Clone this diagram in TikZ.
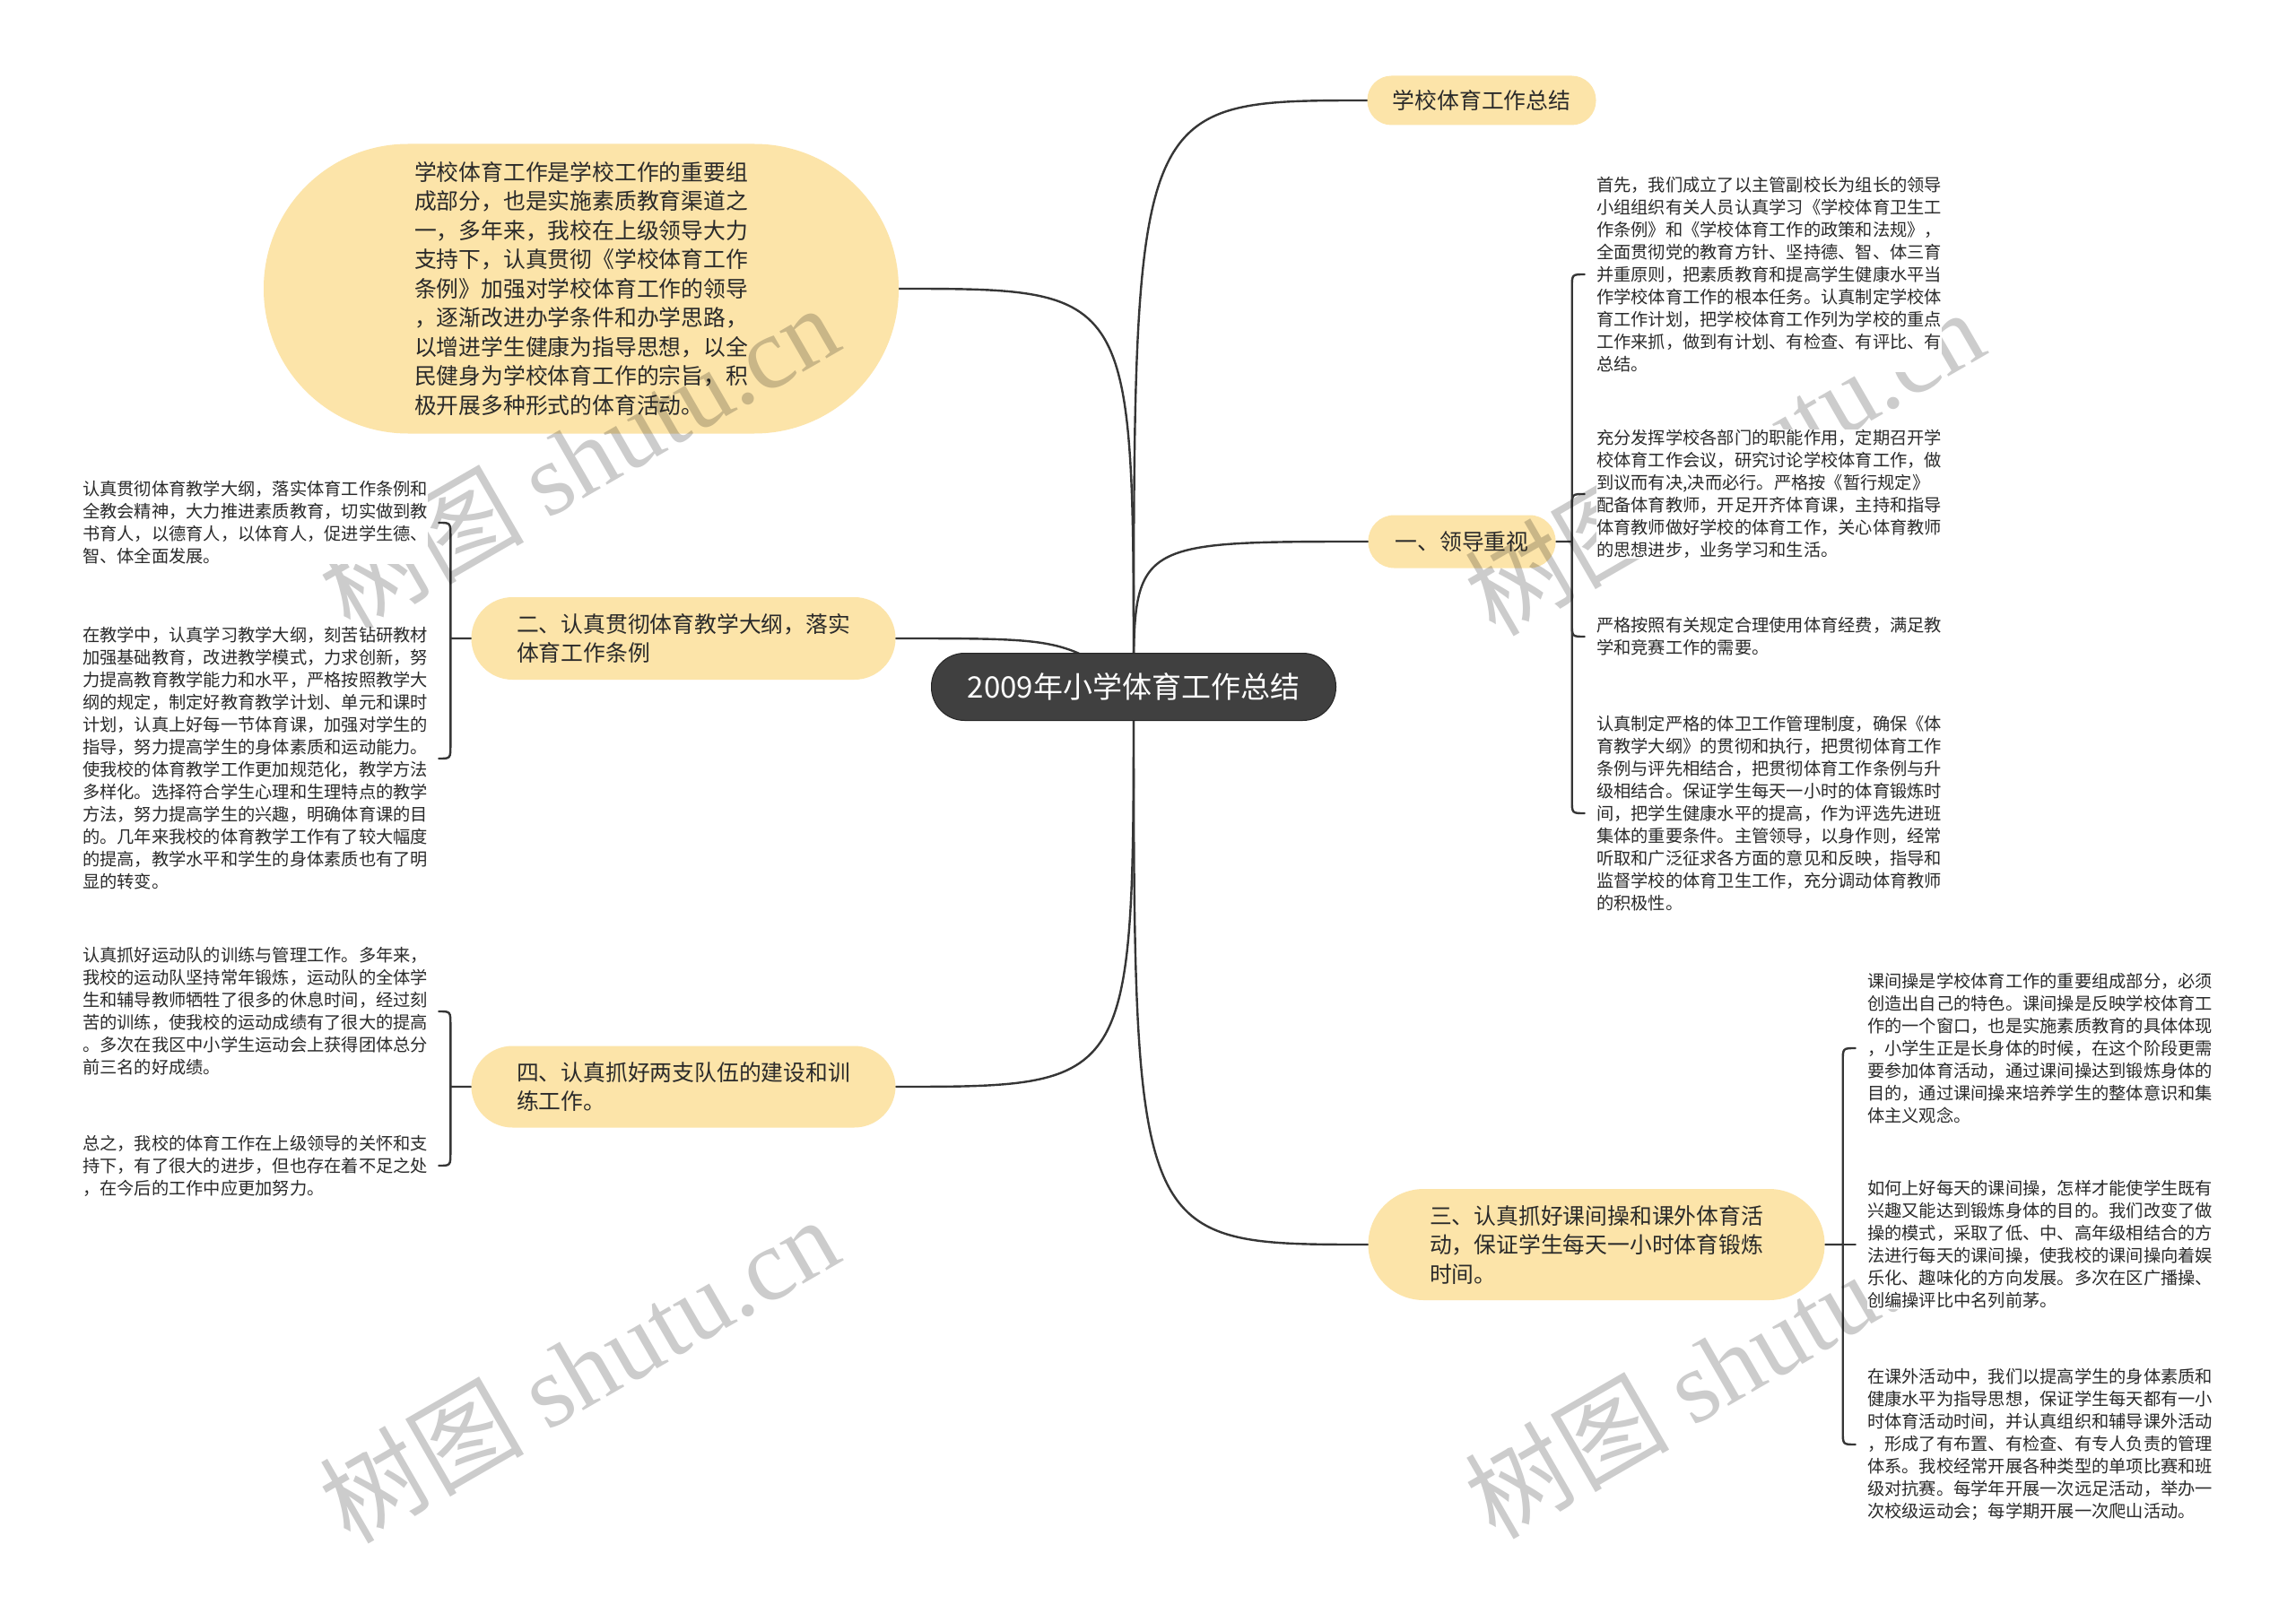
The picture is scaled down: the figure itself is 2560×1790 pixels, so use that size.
\documentclass[tikz,border=0pt]{standalone}
\usepackage{fontspec}
\setmainfont{Noto Sans CJK SC}
\newfontfamily\wmlatin{Liberation Serif}
\usetikzlibrary{calc,backgrounds}
\definecolor{yel}{HTML}{FCE4A9}
\definecolor{rootc}{HTML}{404040}
\definecolor{txt}{HTML}{2A2A2A}
\definecolor{wire}{HTML}{363636}
\tikzset{
  topic/.style={rectangle, fill=yel, text=txt, align=left, inner sep=0pt,
    font=\fontsize{24.8pt}{32.5pt}\selectfont},
  rootnode/.style={rectangle, fill=rootc, draw=black!85, line width=1pt, text=white, inner sep=0pt,
    rounded corners=37pt, minimum width=451pt, minimum height=75pt,
    font=\fontsize{33pt}{40pt}\selectfont},
  leaf/.style={inner sep=0pt, fill=white, align=left, text=txt, font=\fontsize{19.25pt}{25pt}\selectfont},
  wirestyle/.style={draw=wire, line width=2.4pt, line cap=round},
  wm/.style={text=black, opacity=0.2, rotate=30, inner sep=0pt,
    font=\fontsize{114pt}{114pt}\selectfont}
}
\begin{document}
\begin{tikzpicture}[x=1pt,y=-1pt]
\useasboundingbox (0,0) rectangle (2560,1790);

% ---------- main nodes ----------
\node[rootnode] (root) at (1264,766) {2009年小学体育工作总结};

\node[topic, rounded corners=27pt, minimum width=255pt, minimum height=55pt] (t0) at (1652,112) {学校体育工作总结};

\node[topic, rounded corners=161pt, minimum width=708pt, minimum height=323pt] (big) at (648,322)
{学校体育工作是学校工作的重要组\\成部分，也是实施素质教育渠道之\\一，多年来，我校在上级领导大力\\支持下，认真贯彻《学校体育工作\\条例》加强对学校体育工作的领导\\，逐渐改进办学条件和办学思路，\\以增进学生健康为指导思想，以全\\民健身为学校体育工作的宗旨，积\\极开展多种形式的体育活动。};

\node[topic, rounded corners=29pt, minimum width=209pt, minimum height=59pt] (n1) at (1630,604) {一、领导重视};

\node[topic, rounded corners=46pt, minimum width=473pt, minimum height=92pt] (n2) at (762,712)
{二、认真贯彻体育教学大纲，落实\\体育工作条例};

\node[topic, rounded corners=46pt, minimum width=473pt, minimum height=91pt] (n4) at (762,1212)
{四、认真抓好两支队伍的建设和训\\练工作。};

\node[topic, rounded corners=62pt, minimum width=509pt, minimum height=124pt] (n3) at (1780,1388)
{三、认真抓好课间操和课外体育活\\动，保证学生每天一小时体育锻炼\\时间。};

% ---------- watermarks (below the leaf texts) ----------
\node[wm] (w1) at (645,510) {树图 {\wmlatin shutu.cn}};
\node[wm] (w2) at (1922,515) {树图 {\wmlatin shutu.cn}};
\node[wm] (w3) at (645,1527) {树图 {\wmlatin shutu.cn}};
\node[wm] (w4) at (1922,1522) {树图 {\wmlatin shutu.cn}};

% ---------- leaves of 一 ----------
\node[leaf, anchor=west] (La) at (1780,306)
{首先，我们成立了以主管副校长为组长的领导\\小组组织有关人员认真学习《学校体育卫生工\\作条例》和《学校体育工作的政策和法规》，\\全面贯彻党的教育方针、坚持德、智、体三育\\并重原则，把素质教育和提高学生健康水平当\\作学校体育工作的根本任务。认真制定学校体\\育工作计划，把学校体育工作列为学校的重点\\工作来抓，做到有计划、有检查、有评比、有\\总结。};
\node[leaf, anchor=west] (Lb) at (1780,551)
{充分发挥学校各部门的职能作用，定期召开学\\校体育工作会议，研究讨论学校体育工作，做\\到议而有决,决而必行。严格按《暂行规定》\\配备体育教师，开足开齐体育课，主持和指导\\体育教师做好学校的体育工作，关心体育教师\\的思想进步，业务学习和生活。};
\node[leaf, anchor=west] (Lc) at (1780,710)
{严格按照有关规定合理使用体育经费，满足教\\学和竞赛工作的需要。};
\node[leaf, anchor=west] (Ld) at (1780,907)
{认真制定严格的体卫工作管理制度，确保《体\\育教学大纲》的贯彻和执行，把贯彻体育工作\\条例与评先相结合，把贯彻体育工作条例与升\\级相结合。保证学生每天一小时的体育锻炼时\\间，把学生健康水平的提高，作为评选先进班\\集体的重要条件。主管领导，以身作则，经常\\听取和广泛征求各方面的意见和反映，指导和\\监督学校的体育卫生工作，充分调动体育教师\\的积极性。};

% ---------- leaves of 三 ----------
\node[leaf, anchor=west] (Le) at (2082,1169)
{课间操是学校体育工作的重要组成部分，必须\\创造出自己的特色。课间操是反映学校体育工\\作的一个窗口，也是实施素质教育的具体体现\\，小学生正是长身体的时候，在这个阶段更需\\要参加体育活动，通过课间操达到锻炼身体的\\目的，通过课间操来培养学生的整体意识和集\\体主义观念。};
\node[leaf, anchor=west] (Lf) at (2082,1388)
{如何上好每天的课间操，怎样才能使学生既有\\兴趣又能达到锻炼身体的目的。我们改变了做\\操的模式，采取了低、中、高年级相结合的方\\法进行每天的课间操，使我校的课间操向着娱\\乐化、趣味化的方向发展。多次在区广播操、\\创编操评比中名列前茅。};
\node[leaf, anchor=west] (Lg) at (2082,1611)
{在课外活动中，我们以提高学生的身体素质和\\健康水平为指导思想，保证学生每天都有一小\\时体育活动时间，并认真组织和辅导课外活动\\，形成了有布置、有检查、有专人负责的管理\\体系。我校经常开展各种类型的单项比赛和班\\级对抗赛。每学年开展一次远足活动，举办一\\次校级运动会；每学期开展一次爬山活动。};

% ---------- leaves of 二 ----------
\node[leaf, anchor=west] (L2a) at (92,583)
{认真贯彻体育教学大纲，落实体育工作条例和\\全教会精神，大力推进素质教育，切实做到教\\书育人，以德育人，以体育人，促进学生德、\\智、体全面发展。};
\node[leaf, anchor=west] (L2b) at (92,846)
{在教学中，认真学习教学大纲，刻苦钻研教材\\加强基础教育，改进教学模式，力求创新，努\\力提高教育教学能力和水平，严格按照教学大\\纲的规定，制定好教育教学计划、单元和课时\\计划，认真上好每一节体育课，加强对学生的\\指导，努力提高学生的身体素质和运动能力。\\使我校的体育教学工作更加规范化，教学方法\\多样化。选择符合学生心理和生理特点的教学\\方法，努力提高学生的兴趣，明确体育课的目\\的。几年来我校的体育教学工作有了较大幅度\\的提高，教学水平和学生的身体素质也有了明\\显的转变。};

% ---------- leaves of 四 ----------
\node[leaf, anchor=west] (L4a) at (92,1128)
{认真抓好运动队的训练与管理工作。多年来，\\我校的运动队坚持常年锻炼，运动队的全体学\\生和辅导教师牺牲了很多的休息时间，经过刻\\苦的训练，使我校的运动成绩有了很大的提高\\。多次在我区中小学生运动会上获得团体总分\\前三名的好成绩。};
\node[leaf, anchor=west] (L4b) at (92,1300)
{总之，我校的体育工作在上级领导的关怀和支\\持下，有了很大的进步，但也存在着不足之处\\，在今后的工作中应更加努力。};

% ---------- bracket stems ----------
\coordinate (b1) at ($(n1.east)+(18,0)$);
\coordinate (b3) at ($(n3.east)+(20,0)$);
\coordinate (b2) at ($(n2.west)+(-23,0)$);
\coordinate (b4) at ($(n4.west)+(-23,0)$);

\begin{scope}[on background layer]
\fill[white] (0,0) rectangle (2560,1790);
% root branches
\draw[wirestyle] (t0.west) .. controls (t0.west -| root.center) .. (root.center);
\draw[wirestyle] (n1.west) .. controls (n1.west -| root.center) .. (root.center);
\draw[wirestyle] (n3.west) .. controls (n3.west -| root.center) .. (root.center);
\draw[wirestyle] (big.east) .. controls (big.east -| root.center) .. (root.center);
\draw[wirestyle] (n2.east) .. controls ($(n2.east)!0.7!(n2.east -| root.center)$) .. (root.center);
\draw[wirestyle] (n4.east) .. controls (n4.east -| root.center) .. (root.center);

% bracket of 一
\draw[wirestyle] (n1.east) -- (b1) -- ($(b1|-La.west)+(0,15)$) .. controls (b1|-La.west) .. ($(b1|-La.west)+(14,0)$);
\draw[wirestyle] (b1) -- ($(b1|-Lb.west)+(0,15)$) .. controls (b1|-Lb.west) .. ($(b1|-Lb.west)+(14,0)$);
\draw[wirestyle] (b1) -- ($(b1|-Lc.west)+(0,-15)$) .. controls (b1|-Lc.west) .. ($(b1|-Lc.west)+(14,0)$);
\draw[wirestyle] (b1) -- ($(b1|-Ld.west)+(0,-15)$) .. controls (b1|-Ld.west) .. ($(b1|-Ld.west)+(14,0)$);

% bracket of 三
\draw[wirestyle] (n3.east) -- (b3) -- ($(b3|-Le.west)+(0,15)$) .. controls (b3|-Le.west) .. ($(b3|-Le.west)+(14,0)$);
\draw[wirestyle] (b3) -- ($(b3|-Lf.west)+(14,0)$);
\draw[wirestyle] (b3) -- ($(b3|-Lg.west)+(0,-15)$) .. controls (b3|-Lg.west) .. ($(b3|-Lg.west)+(14,0)$);

% bracket of 二
\draw[wirestyle] (n2.west) -- (b2) -- ($(b2|-L2a.east)+(0,15)$) .. controls (b2|-L2a.east) .. ($(b2|-L2a.east)+(-13,0)$);
\draw[wirestyle] (b2) -- ($(b2|-L2b.east)+(0,-15)$) .. controls (b2|-L2b.east) .. ($(b2|-L2b.east)+(-13,0)$);

% bracket of 四
\draw[wirestyle] (n4.west) -- (b4) -- ($(b4|-L4a.east)+(0,15)$) .. controls (b4|-L4a.east) .. ($(b4|-L4a.east)+(-13,0)$);
\draw[wirestyle] (b4) -- ($(b4|-L4b.east)+(0,-15)$) .. controls (b4|-L4b.east) .. ($(b4|-L4b.east)+(-13,0)$);
\end{scope}
\end{tikzpicture}
\end{document}
